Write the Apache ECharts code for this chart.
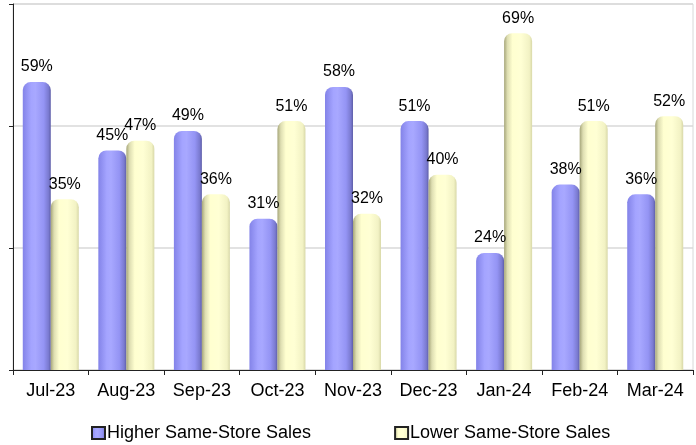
<!DOCTYPE html>
<html><head><meta charset="utf-8">
<script src="https://cdn.jsdelivr.net/npm/echarts@6/dist/echarts.min.js"></script>
<style>html,body{margin:0;padding:0;background:#fff}#c{width:696px;height:445px}</style>
</head><body><div id="c"></div>
<script>
const categories = ['Jul-23','Aug-23','Sep-23','Oct-23','Nov-23','Dec-23','Jan-24','Feb-24','Mar-24'];
const higherSales = [59,45,49,31,58,51,24,38,36];
const lowerSales = [35,47,36,51,32,40,69,51,52];
const seriesNames = ['Higher Same-Store Sales','Lower Same-Store Sales'];

function grad(stops){
  return new echarts.graphic.LinearGradient(0,0,1,0,stops.map((c,i)=>({offset:c[0],color:c[1]})));
}
const blueGrad = grad([[0,'#8383e8'],[0.3,'#a4a4ff'],[0.45,'#a8a8ff'],[0.75,'#9494f4'],[0.92,'#7a7ad0'],[1,'#5e5ea8']]);
const yellowGrad = grad([[0,'#a6a67a'],[0.12,'#dedeb2'],[0.3,'#ffffd0'],[0.6,'#ffffd4'],[0.9,'#f2f2c4'],[1,'#d8d8a8']]);

const chart = echarts.init(document.getElementById('c'));
const labelCfg = {show:true, position:'top', distance:7, formatter:'{c}%', color:'#000', fontFamily:'Liberation Sans, Arial', fontSize:16};
chart.setOption({
  animation:false,
  grid:{left:13, right:3, top:4, bottom:75, show:true, borderColor:'#d8d8d8', borderWidth:1},
  legend:{
    top:419, left:86, itemGap:83, itemWidth:13, itemHeight:12,
    textStyle:{fontFamily:'Liberation Sans, Arial', fontSize:18, color:'#000', padding:[0,0,0,-3]},
    data:[
      {name:seriesNames[0], icon:'rect', itemStyle:{color:blueGrad, borderColor:'#222', borderWidth:2}},
      {name:seriesNames[1], icon:'rect', itemStyle:{color:yellowGrad, borderColor:'#222', borderWidth:2}}
    ]
  },
  xAxis:{
    type:'category', data:categories,
    axisLine:{lineStyle:{color:'#222', width:1}},
    axisTick:{show:true, length:5, lineStyle:{color:'#222'}},
    axisLabel:{color:'#000', fontFamily:'Liberation Sans, Arial', fontSize:18, margin:12}
  },
  yAxis:{
    type:'value', min:0, max:75, interval:25,
    axisLine:{show:true, lineStyle:{color:'#222'}},
    axisTick:{show:true, length:4, lineStyle:{color:'#222'}},
    axisLabel:{show:false},
    splitLine:{lineStyle:{color:'#d8d8d8', width:1.5}}
  },
  series:[
    {name:seriesNames[0], type:'bar', data:higherSales, barWidth:28, barGap:'0%',
     itemStyle:{color:blueGrad, borderRadius:[8,8,0,0]}, label:labelCfg},
    {name:seriesNames[1], type:'bar', data:lowerSales, barWidth:28, barGap:'0%',
     itemStyle:{color:yellowGrad, borderRadius:[8,8,0,0]}, label:labelCfg}
  ]
});
</script></body></html>
